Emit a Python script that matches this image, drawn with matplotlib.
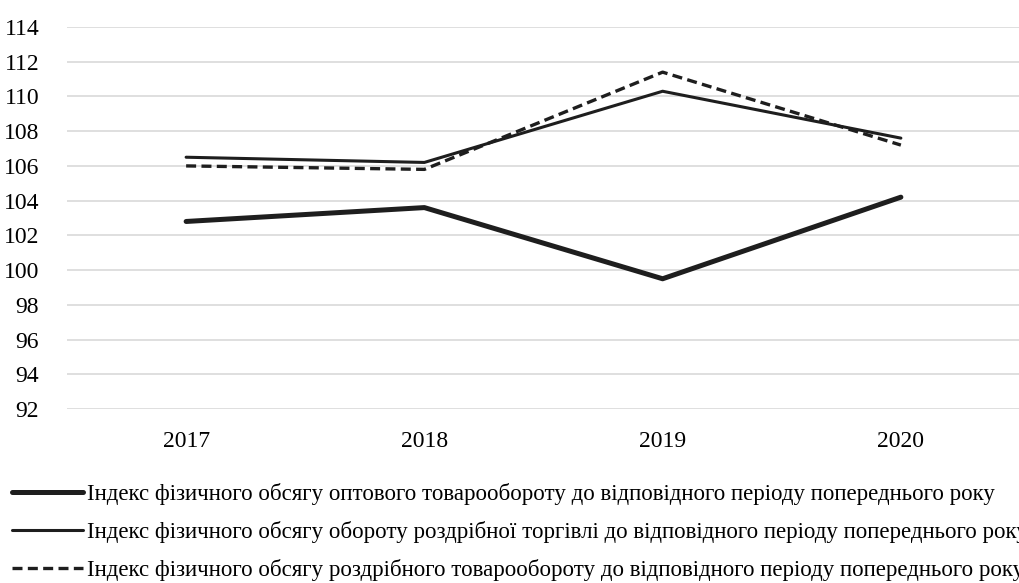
import matplotlib.pyplot as plt
from matplotlib.lines import Line2D

plt.rcParams["font.family"] = ["Liberation Serif", "DejaVu Serif"]

years = ["2017", "2018", "2019", "2020"]
optovyi = [102.8, 103.6, 99.5, 104.2]
rozdribna_torgivlia = [106.5, 106.2, 110.3, 107.6]
rozdribnyi_tovarooborot = [106.0, 105.8, 111.4, 107.2]

labels = [
    "Індекс фізичного обсягу оптового товарообороту до відповідного періоду попереднього року",
    "Індекс фізичного обсягу обороту роздрібної торгівлі до відповідного періоду попереднього року",
    "Індекс фізичного обсягу роздрібного товарообороту до відповідного періоду попереднього року",
]

fig = plt.figure(figsize=(10.2, 5.83), dpi=100)
ax = fig.add_axes([67 / 1020, 1 - 409 / 583, 1 - 67 / 1020, (409 - 27) / 583])

x = range(len(years))
colr = "#1e1e1e"
dash = (0, (3, 1.6))
ax.plot(x, optovyi, color=colr, lw=3.6, solid_capstyle="round")
ax.plot(x, rozdribna_torgivlia, color=colr, lw=2.2, solid_capstyle="round")
ax.plot(x, rozdribnyi_tovarooborot, color=colr, lw=2.4, ls=dash)

ax.set_xlim(-0.5, 3.5)
ax.set_ylim(92, 114)
ax.set_yticks(range(92, 115, 2))
ax.set_xticks(list(x))
ax.set_xticklabels(years)
ax.grid(axis="y", color="#d9d9d9", lw=1.2)
ax.set_axisbelow(True)
for s in ax.spines.values():
    s.set_visible(False)
ax.tick_params(length=0, labelsize=17, colors="black")
ax.tick_params(axis="y", pad=20)
ax.tick_params(axis="x", pad=16)

handles = [
    Line2D([], [], color=colr, lw=3.6, solid_capstyle="round"),
    Line2D([], [], color=colr, lw=2.2, solid_capstyle="round"),
    Line2D([], [], color=colr, lw=2.4, ls=dash),
]
fig.legend(handles, labels, loc="upper left", bbox_to_anchor=(0.0118, 0.171),
           frameon=False, fontsize=16.45, handlelength=3.1, handletextpad=0.2,
           labelspacing=0.7, borderaxespad=0, borderpad=0)

fig.savefig("out.png", dpi=100)
